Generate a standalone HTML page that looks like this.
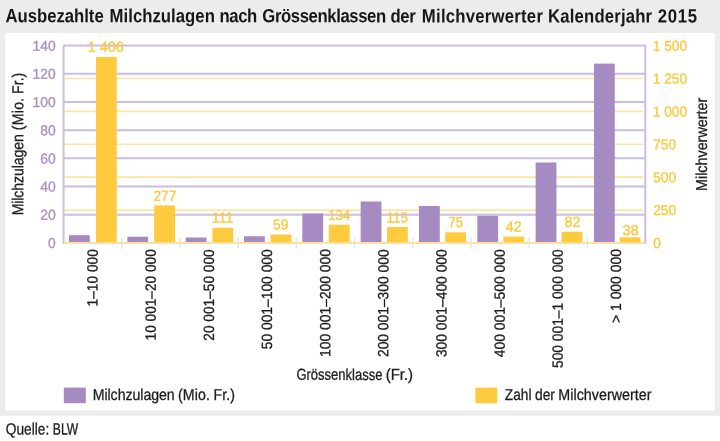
<!DOCTYPE html>
<html lang="de"><head><meta charset="utf-8"><title>Ausbezahlte Milchzulagen nach Grössenklassen der Milchverwerter</title>
<style>html,body{margin:0;padding:0;background:#fff;}body{width:720px;height:441px;overflow:hidden;}svg{display:block;}text{font-family:"Liberation Sans", sans-serif;}</style></head><body>
<svg width="720" height="441" viewBox="0 0 720 441" role="img" aria-label="Ausbezahlte Milchzulagen nach Grössenklassen der Milchverwerter Kalenderjahr 2015">
<rect x="0" y="0" width="720" height="415.6" fill="#ececec"/>
<rect x="5.4" y="33" width="709.3" height="377.5" fill="#fff"/>
<text transform="matrix(0.8752 0.0005 0 1 0 0)" y="22.17" font-size="19.1" font-weight="bold" fill="#171716"><tspan x="6.21" textLength="112.31">Ausbezahlte</tspan> <tspan x="125.24" textLength="120.30">Milchzulagen</tspan> <tspan x="250.92" textLength="43.05">nach</tspan> <tspan x="299.69" textLength="141.54">Grössenklassen</tspan> <tspan x="446.20" textLength="28.87">der</tspan> <tspan x="482.01" textLength="138.31">Milchverwerter</tspan> <tspan x="626.27" textLength="118.82">Kalenderjahr</tspan> <tspan x="751.45" textLength="45.15">2015</tspan></text>
<line x1="64.8" x2="643.1" y1="210.06" y2="210.06" stroke="#ffe3a1" stroke-width="1.7"/>
<line x1="64.8" x2="643.1" y1="177.17" y2="177.17" stroke="#ffe3a1" stroke-width="1.7"/>
<line x1="64.8" x2="643.1" y1="144.27" y2="144.27" stroke="#ffe3a1" stroke-width="1.7"/>
<line x1="64.8" x2="643.1" y1="111.38" y2="111.38" stroke="#ffe3a1" stroke-width="1.7"/>
<line x1="64.8" x2="643.1" y1="78.49" y2="78.49" stroke="#ffe3a1" stroke-width="1.7"/>
<line x1="63.6" x2="645.3" y1="214.76" y2="214.76" stroke="#cbbce1" stroke-width="2"/>
<line x1="63.6" x2="645.3" y1="186.56" y2="186.56" stroke="#cbbce1" stroke-width="2"/>
<line x1="63.6" x2="645.3" y1="158.37" y2="158.37" stroke="#cbbce1" stroke-width="2"/>
<line x1="63.6" x2="645.3" y1="130.18" y2="130.18" stroke="#cbbce1" stroke-width="2"/>
<line x1="63.6" x2="645.3" y1="101.99" y2="101.99" stroke="#cbbce1" stroke-width="2"/>
<line x1="63.6" x2="645.3" y1="73.79" y2="73.79" stroke="#cbbce1" stroke-width="2"/>
<line x1="63.6" x2="645.3" y1="45.60" y2="45.60" stroke="#cbbce1" stroke-width="2"/>
<rect x="69.00" y="235.20" width="20.8" height="6.90" fill="#a68bc3"/>
<rect x="96.00" y="57.00" width="20.8" height="185.10" fill="#ffcb3e"/>
<rect x="127.33" y="236.70" width="20.8" height="5.40" fill="#a68bc3"/>
<rect x="154.20" y="205.40" width="20.8" height="36.70" fill="#ffcb3e"/>
<rect x="185.66" y="237.50" width="20.8" height="4.60" fill="#a68bc3"/>
<rect x="212.40" y="227.80" width="20.8" height="14.30" fill="#ffcb3e"/>
<rect x="243.99" y="236.25" width="20.8" height="5.85" fill="#a68bc3"/>
<rect x="270.60" y="234.50" width="20.8" height="7.60" fill="#ffcb3e"/>
<rect x="302.32" y="213.50" width="20.8" height="28.60" fill="#a68bc3"/>
<rect x="328.80" y="224.70" width="20.8" height="17.40" fill="#ffcb3e"/>
<rect x="360.65" y="201.45" width="20.8" height="40.65" fill="#a68bc3"/>
<rect x="387.00" y="227.05" width="20.8" height="15.05" fill="#ffcb3e"/>
<rect x="418.98" y="205.95" width="20.8" height="36.15" fill="#a68bc3"/>
<rect x="445.20" y="232.30" width="20.8" height="9.80" fill="#ffcb3e"/>
<rect x="477.31" y="215.80" width="20.8" height="26.30" fill="#a68bc3"/>
<rect x="503.40" y="236.60" width="20.8" height="5.50" fill="#ffcb3e"/>
<rect x="535.64" y="162.50" width="20.8" height="79.60" fill="#a68bc3"/>
<rect x="561.60" y="231.75" width="20.8" height="10.35" fill="#ffcb3e"/>
<rect x="593.97" y="63.60" width="20.8" height="178.50" fill="#a68bc3"/>
<rect x="619.80" y="237.30" width="20.8" height="4.80" fill="#ffcb3e"/>
<line x1="121.80" x2="121.80" y1="237.5" y2="248.3" stroke="#e4e4e6" stroke-width="1.4"/>
<line x1="180.00" x2="180.00" y1="237.5" y2="248.3" stroke="#e4e4e6" stroke-width="1.4"/>
<line x1="238.20" x2="238.20" y1="237.5" y2="248.3" stroke="#e4e4e6" stroke-width="1.4"/>
<line x1="296.40" x2="296.40" y1="237.5" y2="248.3" stroke="#e4e4e6" stroke-width="1.4"/>
<line x1="354.60" x2="354.60" y1="237.5" y2="248.3" stroke="#e4e4e6" stroke-width="1.4"/>
<line x1="412.80" x2="412.80" y1="237.5" y2="248.3" stroke="#e4e4e6" stroke-width="1.4"/>
<line x1="471.00" x2="471.00" y1="237.5" y2="248.3" stroke="#e4e4e6" stroke-width="1.4"/>
<line x1="529.20" x2="529.20" y1="237.5" y2="248.3" stroke="#e4e4e6" stroke-width="1.4"/>
<line x1="587.40" x2="587.40" y1="237.5" y2="248.3" stroke="#e4e4e6" stroke-width="1.4"/>
<line x1="64.60" x2="644.30" y1="242.95" y2="242.95" stroke="#ffe0a0" stroke-width="2"/>
<line x1="63.60" x2="63.60" y1="44.70" y2="243.75" stroke="#cbbce1" stroke-width="1.9"/>
<line x1="645.30" x2="645.30" y1="44.70" y2="243.75" stroke="#cbbce1" stroke-width="2"/>
<text transform="matrix(0.9997 0.0005 0 1 0 0)" x="87.71" y="51.75" font-size="14.5" fill="#ffc83a" stroke="#ffc83a" stroke-width="0.3">1 406</text>
<text transform="matrix(0.9386 0.0005 0 1 0 0)" x="163.58" y="200.72" font-size="14.5" fill="#ffc83a" stroke="#ffc83a" stroke-width="0.3">277</text>
<text transform="matrix(0.9808 0.0005 0 1 0 0)" x="215.84" y="222.39" font-size="14.5" fill="#ffc83a" stroke="#ffc83a" stroke-width="0.3">111</text>
<text transform="matrix(0.9556 0.0005 0 1 0 0)" x="285.80" y="229.26" font-size="14.5" fill="#ffc83a" stroke="#ffc83a" stroke-width="0.3">59</text>
<text transform="matrix(0.9147 0.0005 0 1 0 0)" x="358.74" y="219.83" font-size="14.5" fill="#ffc83a" stroke="#ffc83a" stroke-width="0.3">134</text>
<text transform="matrix(0.9286 0.0005 0 1 0 0)" x="416.32" y="222.30" font-size="14.5" fill="#ffc83a" stroke="#ffc83a" stroke-width="0.3">115</text>
<text transform="matrix(0.9215 0.0005 0 1 0 0)" x="486.45" y="226.67" font-size="14.5" fill="#ffc83a" stroke="#ffc83a" stroke-width="0.3">75</text>
<text transform="matrix(0.9898 0.0005 0 1 0 0)" x="510.99" y="231.24" font-size="14.5" fill="#ffc83a" stroke="#ffc83a" stroke-width="0.3">42</text>
<text transform="matrix(0.9906 0.0005 0 1 0 0)" x="569.84" y="226.46" font-size="14.5" fill="#ffc83a" stroke="#ffc83a" stroke-width="0.3">82</text>
<text transform="matrix(1.0013 0.0005 0 1 0 0)" x="621.73" y="234.68" font-size="14.5" fill="#ffc83a" stroke="#ffc83a" stroke-width="0.3">38</text>
<text transform="matrix(0.9650 0.0005 0 1 0 0)" x="49.66" y="247.97" font-size="14.3" fill="#a98dc6" stroke="#a98dc6" stroke-width="0.3">0</text>
<text transform="matrix(0.9834 0.0005 0 1 0 0)" x="40.88" y="219.78" font-size="14.3" fill="#a98dc6" stroke="#a98dc6" stroke-width="0.3">20</text>
<text transform="matrix(0.9785 0.0005 0 1 0 0)" x="41.02" y="191.59" font-size="14.3" fill="#a98dc6" stroke="#a98dc6" stroke-width="0.3">40</text>
<text transform="matrix(0.9747 0.0005 0 1 0 0)" x="41.24" y="163.40" font-size="14.3" fill="#a98dc6" stroke="#a98dc6" stroke-width="0.3">60</text>
<text transform="matrix(0.9738 0.0005 0 1 0 0)" x="41.29" y="135.20" font-size="14.3" fill="#a98dc6" stroke="#a98dc6" stroke-width="0.3">80</text>
<text transform="matrix(0.9670 0.0005 0 1 0 0)" x="33.71" y="107.01" font-size="14.3" fill="#a98dc6" stroke="#a98dc6" stroke-width="0.3">100</text>
<text transform="matrix(0.9670 0.0005 0 1 0 0)" x="33.71" y="78.82" font-size="14.3" fill="#a98dc6" stroke="#a98dc6" stroke-width="0.3">120</text>
<text transform="matrix(0.9670 0.0005 0 1 0 0)" x="33.71" y="50.63" font-size="14.3" fill="#a98dc6" stroke="#a98dc6" stroke-width="0.3">140</text>
<text transform="matrix(0.9650 0.0005 0 1 0 0)" x="676.88" y="247.67" font-size="14.3" fill="#ffc83a" stroke="#ffc83a" stroke-width="0.3">0</text>
<text transform="matrix(0.9715 0.0005 0 1 0 0)" x="672.31" y="214.78" font-size="14.3" fill="#ffc83a" stroke="#ffc83a" stroke-width="0.3">250</text>
<text transform="matrix(0.9711 0.0005 0 1 0 0)" x="672.40" y="181.88" font-size="14.3" fill="#ffc83a" stroke="#ffc83a" stroke-width="0.3">500</text>
<text transform="matrix(0.9725 0.0005 0 1 0 0)" x="671.56" y="148.99" font-size="14.3" fill="#ffc83a" stroke="#ffc83a" stroke-width="0.3">750</text>
<text transform="matrix(0.9657 0.0005 0 1 0 0)" x="675.86" y="116.10" font-size="14.3" fill="#ffc83a" stroke="#ffc83a" stroke-width="0.3">1 000</text>
<text transform="matrix(0.9657 0.0005 0 1 0 0)" x="675.86" y="83.21" font-size="14.3" fill="#ffc83a" stroke="#ffc83a" stroke-width="0.3">1 250</text>
<text transform="matrix(0.9657 0.0005 0 1 0 0)" x="675.86" y="50.31" font-size="14.3" fill="#ffc83a" stroke="#ffc83a" stroke-width="0.3">1 500</text>
<text transform="translate(97.60,305.50) rotate(-90) matrix(0.9284 0.0005 0 1 0 0)" x="-0.98" y="-0.01" font-size="14.8" fill="#1d1d1b" stroke="#1d1d1b" stroke-width="0.3">1–10 000</text>
<text transform="translate(155.75,339.50) rotate(-90) matrix(0.9235 0.0005 0 1 0 0)" x="-0.98" y="-0.02" font-size="14.8" fill="#1d1d1b" stroke="#1d1d1b" stroke-width="0.3">10 001–20 000</text>
<text transform="translate(213.90,340.20) rotate(-90) matrix(0.9257 0.0005 0 1 0 0)" x="-0.51" y="-0.02" font-size="14.8" fill="#1d1d1b" stroke="#1d1d1b" stroke-width="0.3">20 001–50 000</text>
<text transform="translate(272.05,348.60) rotate(-90) matrix(0.9353 0.0005 0 1 0 0)" x="-0.70" y="-0.02" font-size="14.8" fill="#1d1d1b" stroke="#1d1d1b" stroke-width="0.3">50 001–100 000</text>
<text transform="translate(330.20,356.00) rotate(-90) matrix(0.9369 0.0005 0 1 0 0)" x="-0.98" y="-0.03" font-size="14.8" fill="#1d1d1b" stroke="#1d1d1b" stroke-width="0.3">100 001–200 000</text>
<text transform="translate(388.35,356.60) rotate(-90) matrix(0.9352 0.0005 0 1 0 0)" x="-0.50" y="-0.03" font-size="14.8" fill="#1d1d1b" stroke="#1d1d1b" stroke-width="0.3">200 001–300 000</text>
<text transform="translate(446.50,356.60) rotate(-90) matrix(0.9365 0.0005 0 1 0 0)" x="-0.54" y="-0.03" font-size="14.8" fill="#1d1d1b" stroke="#1d1d1b" stroke-width="0.3">300 001–400 000</text>
<text transform="translate(504.65,356.90) rotate(-90) matrix(0.9369 0.0005 0 1 0 0)" x="-0.35" y="-0.03" font-size="14.8" fill="#1d1d1b" stroke="#1d1d1b" stroke-width="0.3">400 001–500 000</text>
<text transform="translate(562.80,367.30) rotate(-90) matrix(0.9300 0.0005 0 1 0 0)" x="-0.69" y="-0.03" font-size="14.8" fill="#1d1d1b" stroke="#1d1d1b" stroke-width="0.3">500 001–1 000 000</text>
<text transform="translate(620.95,322.50) rotate(-90) matrix(0.9419 0.0005 0 1 0 0)" x="-0.52" y="-0.02" font-size="14.8" fill="#1d1d1b" stroke="#1d1d1b" stroke-width="0.3">&gt; 1 000 000</text>
<text transform="translate(23.20,214.20) rotate(-90) matrix(0.8916 0.0005 0 1 0 0)" y="-0.04" font-size="15.8" fill="#1d1d1b" stroke="#1d1d1b" stroke-width="0.3"><tspan x="-1.23" textLength="90.92">Milchzulagen</tspan> <tspan x="94.21" textLength="36.39">(Mio.</tspan> <tspan x="134.82" textLength="23.89">Fr.)</tspan></text>
<text transform="translate(706.90,189.90) rotate(-90) matrix(0.9091 0.0005 0 1 0 0)" x="-1.22" y="-0.02" font-size="15.8" fill="#1d1d1b" stroke="#1d1d1b" stroke-width="0.3">Milchverwerter</text>
<g>
<text transform="matrix(0.8256 0.0005 0 1 0 0)" x="359.00" y="379.68" font-size="15.8" fill="#1d1d1b" stroke="#1d1d1b" stroke-width="0.3">Grössenklasse</text>
<text transform="matrix(0.9471 0.0005 0 1 0 0)" x="407.25" y="379.65" font-size="15.8" fill="#1d1d1b" stroke="#1d1d1b" stroke-width="0.3">(Fr.)</text>
</g>
<rect x="63.8" y="387.6" width="22" height="15.6" fill="#a68bc3"/>
<text transform="matrix(0.8971 0.0005 0 1 0 0)" y="399.92" font-size="15.8" fill="#1d1d1b" stroke="#1d1d1b" stroke-width="0.3"><tspan x="103.33" textLength="91.47">Milchzulagen</tspan> <tspan x="198.46" textLength="35.48">(Mio.</tspan> <tspan x="237.99" textLength="24.02">Fr.)</tspan></text>
<rect x="475.3" y="387.6" width="22" height="15.6" fill="#ffcb3e"/>
<g>
<text transform="matrix(0.8674 0.0005 0 1 0 0)" x="582.01" y="399.74" font-size="15.8" fill="#1d1d1b" stroke="#1d1d1b" stroke-width="0.3">Zahl</text>
<text transform="matrix(0.8765 0.0005 0 1 0 0)" x="610.35" y="399.73" font-size="15.8" fill="#1d1d1b" stroke="#1d1d1b" stroke-width="0.3">der</text>
<text transform="matrix(0.9079 0.0005 0 1 0 0)" x="615.01" y="399.70" font-size="15.8" fill="#1d1d1b" stroke="#1d1d1b" stroke-width="0.3">Milchverwerter</text>
</g>
<g>
<text transform="matrix(0.8478 0.0005 0 1 0 0)" x="6.83" y="434.59" font-size="16.2" fill="#1d1d1b" stroke="#1d1d1b" stroke-width="0.3">Quelle:</text>
<text transform="matrix(0.7510 0.0005 0 1 0 0)" x="70.39" y="434.57" font-size="16.2" fill="#1d1d1b" stroke="#1d1d1b" stroke-width="0.3">BLW</text>
</g>
</svg></body></html>
